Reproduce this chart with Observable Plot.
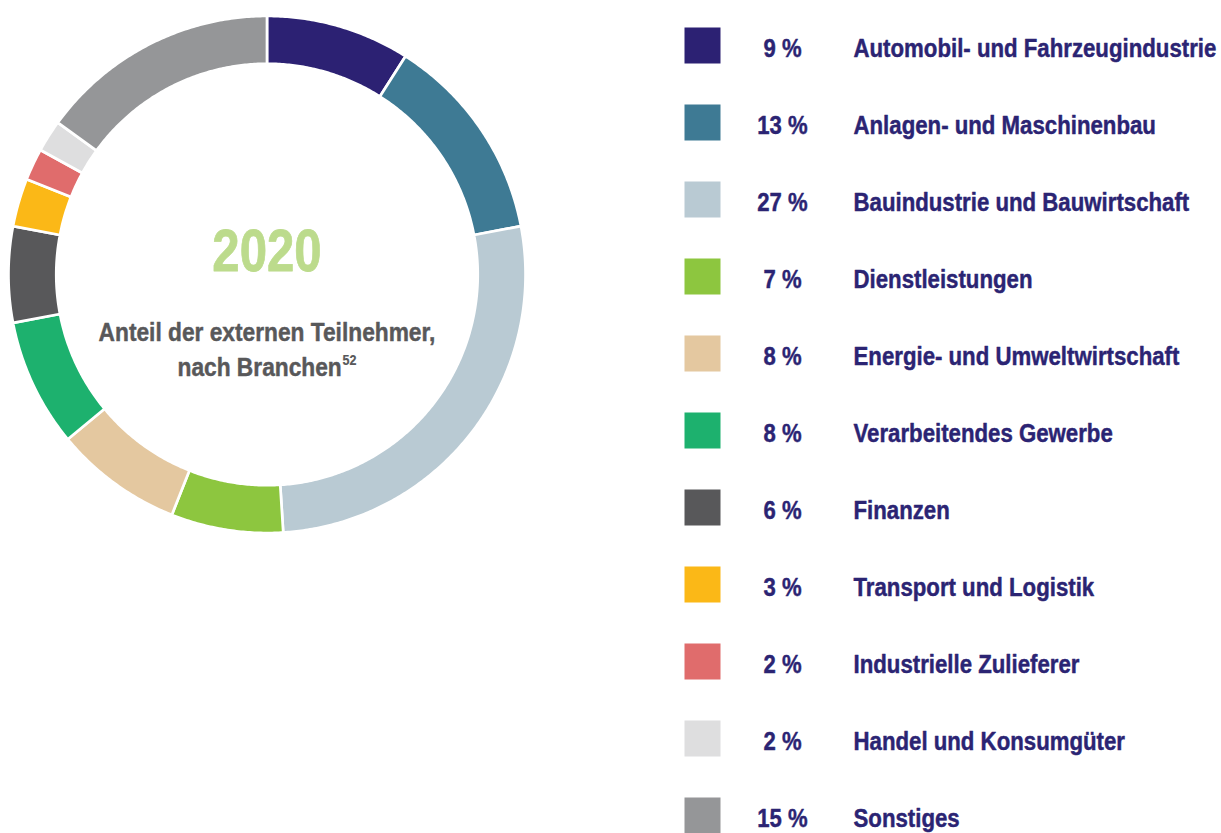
<!DOCTYPE html>
<html>
<head>
<meta charset="utf-8">
<script src="https://cdn.jsdelivr.net/npm/d3@7"></script>
<script src="https://cdn.jsdelivr.net/npm/@observablehq/plot@0.6"></script>
<style>
  html, body { margin: 0; padding: 0; background: #ffffff; }
  #wrap { position: relative; width: 1221px; height: 833px; overflow: hidden; background: #fff; }
  #donut { position: absolute; left: 0; top: 0; }
  #legend { position: absolute; left: 640px; top: 0; }
  svg { overflow: visible; }
</style>
</head>
<body>
<div id="wrap">
  <div id="donut"></div>
  <div id="legend"></div>
</div>
<script>
// ---- data ----
const categories = [
  "Automobil- und Fahrzeugindustrie",
  "Anlagen- und Maschinenbau",
  "Bauindustrie und Bauwirtschaft",
  "Dienstleistungen",
  "Energie- und Umweltwirtschaft",
  "Verarbeitendes Gewerbe",
  "Finanzen",
  "Transport und Logistik",
  "Industrielle Zulieferer",
  "Handel und Konsumgüter",
  "Sonstiges"
];
const shares = [9, 13, 27, 7, 8, 8, 6, 3, 2, 2, 15];
const palette = [
  "#2c2173", "#3e7a94", "#b9cad3", "#8dc63f", "#e4c8a0", "#1db16e",
  "#58585a", "#fbb817", "#e06c6c", "#dededf", "#959698"
];
const yearLabel = "2020";
const subtitleLines = ["Anteil der externen Teilnehmer,", "nach Branchen"];
const footnote = "52";

const FONT = "'Liberation Sans', Arial, sans-serif";
const NAVY = "#2b2473";
const GREY = "#58585a";

// ---- donut geometry (in unit data space) ----
const Rout = 1.006, Rin = 0.82;
const rows = [];
let acc = 0;
categories.forEach((name, i) => {
  const a0 = acc / 100 * 2 * Math.PI;
  acc += shares[i];
  const a1 = acc / 100 * 2 * Math.PI;
  const n = Math.max(4, Math.ceil((a1 - a0) / (Math.PI / 360)));
  const pts = [];
  for (let k = 0; k <= n; k++) {
    const a = a0 + (a1 - a0) * k / n;
    pts.push({name, x: Rout * Math.sin(a), y: Rout * Math.cos(a)});
  }
  for (let k = n; k >= 0; k--) {
    const a = a0 + (a1 - a0) * k / n;
    pts.push({name, x: Rin * Math.sin(a), y: Rin * Math.cos(a)});
  }
  pts.push({...pts[0]});
  rows.push(...pts);
});

const colorScale = {domain: categories, range: palette};

function condense(svg, cls, sx) {
  d3.select(svg).selectAll(`.${cls} text`).each(function() {
    const t = this.getAttribute("transform") || "";
    this.setAttribute("transform", (t + ` scale(${sx},1)`).trim());
  });
}

const donut = Plot.plot({
  width: 533,
  height: 548,
  margin: 0,
  style: {background: "transparent", fontFamily: FONT},
  x: {domain: [-1, 1], range: [9.5, 523.5], axis: null},
  y: {domain: [-1, 1], range: [531, 17], axis: null},
  color: colorScale,
  marks: [
    Plot.line(rows, {x: "x", y: "y", z: "name", fill: "name", stroke: "white", strokeWidth: 2.7, curve: "linear"}),
    Plot.text([yearLabel], {frameAnchor: "middle", dy: -23, fontSize: 60, fontWeight: 700, fill: "#bcdb8c", stroke: "#bcdb8c", strokeWidth: 0.8, fontFamily: FONT, className: "yr"}),
    Plot.text([subtitleLines[0]], {frameAnchor: "middle", dy: 58, fontSize: 26, fontWeight: 700, fill: GREY, stroke: GREY, strokeWidth: 0.45, fontFamily: FONT, className: "sub1"}),
    Plot.text([subtitleLines[1]], {frameAnchor: "middle", dy: 93, fontSize: 26, fontWeight: 700, fill: GREY, stroke: GREY, strokeWidth: 0.45, fontFamily: FONT, className: "sub2"})
  ]
});
document.getElementById("donut").appendChild(donut);

// superscript footnote
d3.select(donut).selectAll(".sub2 text").each(function() {
  d3.select(this).append("tspan").attr("font-size", "0.55em").attr("dy", "-0.75em").attr("dx", "1").attr("stroke-width", 0.2).text(footnote);
});
condense(donut, "yr", 0.82);
condense(donut, "sub1", 0.875);
condense(donut, "sub2", 0.875);

// ---- legend ----
const legendData = categories.map((name, i) => ({name, share: shares[i]}));
const legend = Plot.plot({
  width: 581,
  height: 833,
  margin: 0,
  style: {background: "transparent", fontFamily: FONT},
  y: {type: "point", domain: categories, range: [42, 817], padding: 0, axis: null},
  color: colorScale,
  marks: [
    Plot.dot(legendData, {y: "name", frameAnchor: "left", dx: 62, symbol: "square", r: 20.31, fill: "name", stroke: null}),
    Plot.text(legendData, {y: "name", text: d => `${d.share} %`, frameAnchor: "left", dx: 142, dy: 3, textAnchor: "middle", fontSize: 26, fontWeight: 700, fill: NAVY, stroke: NAVY, strokeWidth: 0.45, fontFamily: FONT, className: "pct"}),
    Plot.text(legendData, {y: "name", text: "name", frameAnchor: "left", dx: 213, dy: 3, textAnchor: "start", fontSize: 26, fontWeight: 700, fill: NAVY, stroke: NAVY, strokeWidth: 0.45, fontFamily: FONT, className: "lbl"})
  ]
});
document.getElementById("legend").appendChild(legend);
condense(legend, "pct", 0.85);
condense(legend, "lbl", 0.855);
</script>
</body>
</html>
